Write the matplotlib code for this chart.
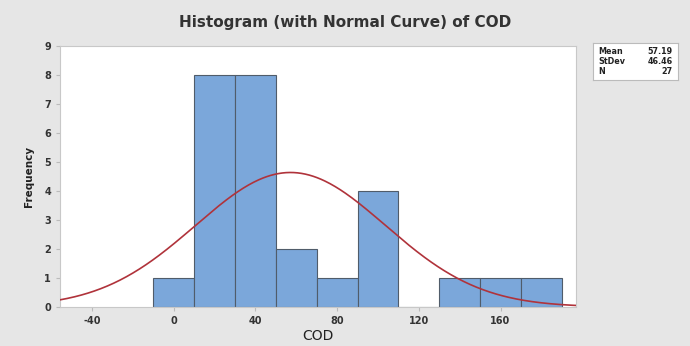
import numpy as np
import matplotlib
matplotlib.use("Agg")
import matplotlib.pyplot as plt

plt.rcParams["axes.unicode_minus"] = False

# Data
bin_edges = [-10, 10, 30, 50, 70, 90, 110, 130, 150, 170, 190]
counts = [1, 8, 8, 2, 1, 4, 0, 1, 1, 1]
mean = 57.19
stdev = 46.46
n = 27
x_ticks = [-40, 0, 40, 80, 120, 160]
y_ticks = list(range(0, 10))

fig = plt.figure(figsize=(6.9, 3.46), dpi=100)
fig.patch.set_facecolor("#e6e6e6")
ax = fig.add_axes([0.087, 0.113, 0.748, 0.754])
ax.set_facecolor("white")

lefts = bin_edges[:-1]
widths = np.diff(bin_edges)
ax.bar(lefts, counts, width=widths, align="edge", color="#7ba7da",
       edgecolor="#505c6a", linewidth=0.8, zorder=2)

xs = np.linspace(-56, 197, 400)
bw = bin_edges[1] - bin_edges[0]
ys = n * bw / (stdev * np.sqrt(2 * np.pi)) * np.exp(-0.5 * ((xs - mean) / stdev) ** 2)
ax.plot(xs, ys, color="#b0333b", linewidth=1.2, zorder=3)

ax.set_xlim(-55.6, 197)
ax.set_ylim(0, 9)
ax.set_xticks(x_ticks)
ax.set_yticks(y_ticks)
ax.tick_params(axis="both", labelsize=7, colors="#bbbbbb", labelcolor="#333333",
               length=3, width=0.8)
for lab in ax.get_xticklabels() + ax.get_yticklabels():
    lab.set_fontweight("bold")
for s in ax.spines.values():
    s.set_color("#c8c8c8")
    s.set_linewidth(0.8)

ax.set_xlabel("COD", fontsize=10, color="#222222", labelpad=2)
ax.set_ylabel("Frequency", fontsize=7.5, color="#222222", labelpad=7,
              fontweight="bold")
fig.text(0.5, 0.935, "Histogram (with Normal Curve) of COD", ha="center",
         va="center", fontsize=11, fontweight="bold", color="#333333")

# Stats box
box = fig.add_axes([0.859, 0.769, 0.123, 0.107])
box.set_xticks([]); box.set_yticks([])
box.set_facecolor("white")
for s in box.spines.values():
    s.set_color("#bbbbbb"); s.set_linewidth(0.8)
rows = [("Mean", f"{mean:.2f}"), ("StDev", f"{stdev:.2f}"), ("N", f"{n}")]
for i, (k, v) in enumerate(rows):
    yy = 0.78 - i * 0.28
    box.text(0.07, yy, k, fontsize=5.8, va="center", ha="left", color="#222222",
             fontweight="bold")
    box.text(0.94, yy, v, fontsize=5.8, va="center", ha="right", color="#222222",
             fontweight="bold")

fig.savefig("out.png", dpi=100, facecolor=fig.get_facecolor())
